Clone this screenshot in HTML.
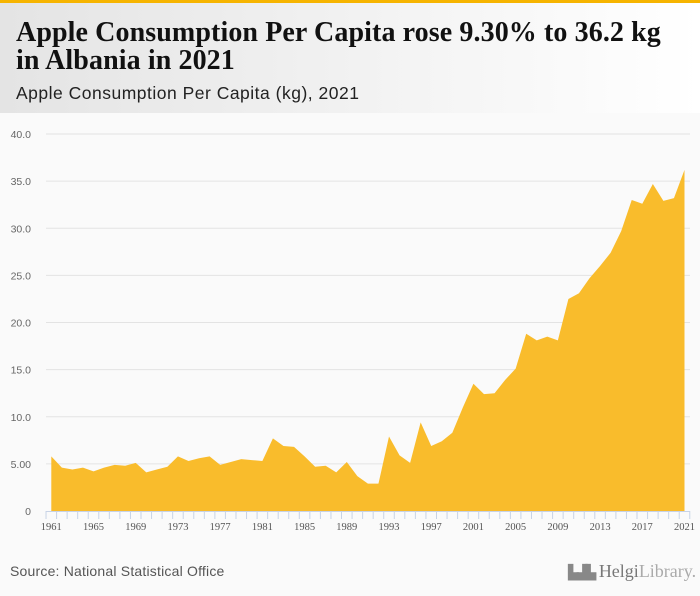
<!DOCTYPE html>
<html><head><meta charset="utf-8"><style>
body{margin:0;width:700px;height:596px;background:#fafafa;font-family:"Liberation Sans",sans-serif;overflow:hidden;position:relative}
#topbar{position:absolute;left:0;top:0;width:700px;height:3px;background:#f6b400}
#header{position:absolute;left:0;top:3px;width:700px;height:110px;background:linear-gradient(90deg,#e4e4e4,#ffffff)}
#title{position:absolute;left:16px;top:16px;font-family:"Liberation Serif",serif;font-weight:bold;font-size:28px;line-height:28px;color:#111;letter-spacing:0.1px;white-space:nowrap}
#subtitle{position:absolute;left:16px;top:80px;font-size:17.5px;color:#222;letter-spacing:0.5px}
#source{position:absolute;left:10px;top:563px;font-size:14px;color:#555;letter-spacing:0.2px}
#logo{position:absolute;left:568px;top:561px;font-family:"Liberation Serif",serif;font-size:18px;color:#888}
</style></head><body>
<div id="topbar"></div>
<div id="header">
<div id="title">Apple Consumption Per Capita rose 9.30% to 36.2 kg<br>in Albania in 2021</div>
<div id="subtitle">Apple Consumption Per Capita (kg), 2021</div>
</div>
<svg id="chart" width="700" height="596" style="position:absolute;left:0;top:0"></svg>
<div id="source">Source: National Statistical Office</div>
<div id="logo"><span style="font-size:14px;letter-spacing:-2px">▙▟▙</span> <b style="font-weight:normal;color:#777">Helgi</b><span style="color:#aaa">Library.</span></div>
<script>
const years=[1961,1962,1963,1964,1965,1966,1967,1968,1969,1970,1971,1972,1973,1974,1975,1976,1977,1978,1979,1980,1981,1982,1983,1984,1985,1986,1987,1988,1989,1990,1991,1992,1993,1994,1995,1996,1997,1998,1999,2000,2001,2002,2003,2004,2005,2006,2007,2008,2009,2010,2011,2012,2013,2014,2015,2016,2017,2018,2019,2020,2021];
const values=[5.8,4.6,4.4,4.6,4.2,4.6,4.9,4.8,5.1,4.1,4.4,4.7,5.8,5.3,5.6,5.8,4.9,5.2,5.5,5.4,5.3,7.7,6.9,6.8,5.8,4.7,4.8,4.1,5.2,3.7,2.9,2.9,7.9,5.9,5.1,9.4,6.9,7.4,8.3,11.0,13.5,12.4,12.5,13.9,15.1,18.8,18.1,18.5,18.1,22.5,23.1,24.7,26.0,27.4,29.7,33.0,32.6,34.7,32.9,33.2,36.2];
const yTicks=[0,5,10,15,20,25,30,35,40];
const yTickLabels=["0","5.00","10.0","15.0","20.0","25.0","30.0","35.0","40.0"];
const xLabelYears=[1961,1965,1969,1973,1977,1981,1985,1989,1993,1997,2001,2005,2009,2013,2017,2021];

const svg=document.getElementById('chart');
const NS='http://www.w3.org/2000/svg';
const x0=51.3,x1=684.5,y0=511,yTop=134;
const xs=y=>x0+(y-years[0])*(x1-x0)/(years[years.length-1]-years[0]);
const ys=v=>y0-v*(y0-yTop)/40;
function mk(t,a){const e=document.createElementNS(NS,t);for(const k in a)e.setAttribute(k,a[k]);svg.appendChild(e);return e;}
yTicks.forEach((t,i)=>{
  if(t>0){const g=mk('line',{x1:46,x2:690,y1:ys(t),y2:ys(t),stroke:'#e3e3e3','stroke-width':1});
  
  }
  const l=mk('text',{x:31,y:ys(t)+4,'text-anchor':'end','font-size':'10.5','fill':'#666','font-family':'Liberation Sans, sans-serif'});
  l.textContent=yTickLabels[i];
  
  
});
let d='M'+xs(years[0])+','+y0;
years.forEach((yr,i)=>{d+=' L'+xs(yr)+','+ys(values[i]);});
d+=' L'+xs(years[years.length-1])+','+y0+' Z';
const area=mk('path',{d:d,fill:'#f9bc2c'});


const ax=mk('line',{x1:46,x2:690,y1:y0+0.5,y2:y0+0.5,stroke:'#c8d3e6','stroke-width':1});


const step=(x1-x0)/(years.length-1);
for(let i=0;i<=years.length;i++){
  const tx=x0-step/2+i*step;
  const t=mk('line',{x1:tx,x2:tx,y1:y0,y2:y0+8,stroke:'#c8d3e6','stroke-width':1});
  
  
}
xLabelYears.forEach(yr=>{
  const l=mk('text',{x:xs(yr),y:y0+19,'text-anchor':'middle','font-size':'10.5','fill':'#555','font-family':'Liberation Serif, serif'});
  l.textContent=yr;
  
  
});
</script>
</body></html>
